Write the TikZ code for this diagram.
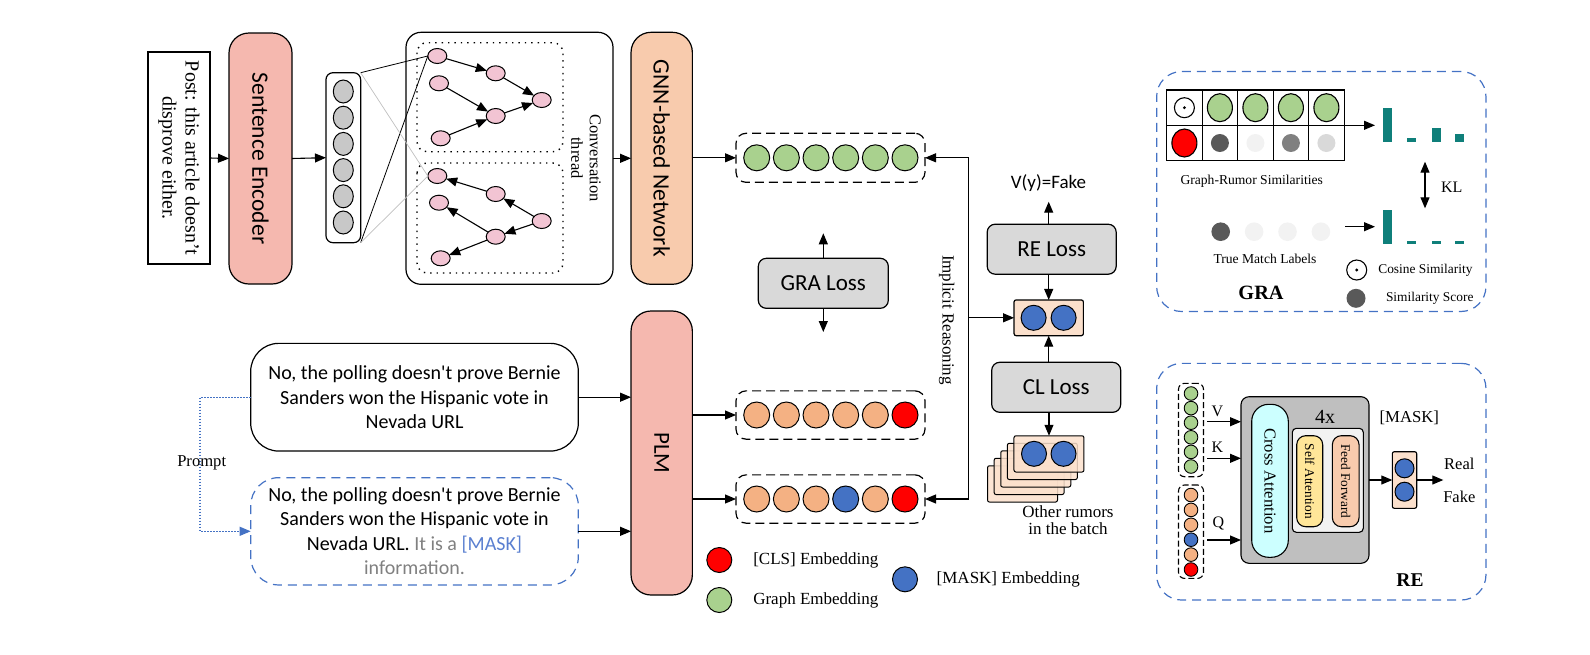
\documentclass[tikz,border=0pt]{standalone}
\usepackage{fontspec}
\setmainfont{Liberation Serif}
\newfontfamily\carl{Carlito}
\usetikzlibrary{arrows.meta,calc,shapes.geometric}
\definecolor{encc}{HTML}{F5B8AF}
\definecolor{gnnc}{HTML}{F8CBAD}
\definecolor{lossc}{HTML}{D9D9D9}
\definecolor{pinkn}{HTML}{F2C4D3}
\definecolor{greenc}{HTML}{A9D18E}
\definecolor{orangec}{HTML}{F4B183}
\definecolor{bluec}{HTML}{4472C4}
\definecolor{maskblue}{HTML}{5A7FD0}
\definecolor{peachc}{HTML}{FBE0CC}
\definecolor{tealc}{HTML}{0F7F7A}
\definecolor{cyanc}{HTML}{CCFFFF}
\definecolor{yellc}{HTML}{FFE699}
\definecolor{greyv}{HTML}{C8C8C8}
\definecolor{bigg}{HTML}{BFBFBF}
\definecolor{txtgrey}{HTML}{808080}
\definecolor{s1}{HTML}{595959}
\definecolor{s2}{HTML}{F2F2F2}
\definecolor{s3}{HTML}{808080}
\definecolor{s4}{HTML}{D9D9D9}
\tikzset{
  every node/.style={inner sep=0pt, outer sep=0pt},
  blk/.style={draw, line width=1.2pt},
  arr/.style={line width=1.1pt, -{Triangle[length=11pt,width=9pt]}},
  darr/.style={line width=1.1pt, {Triangle[length=11pt,width=9pt]}-{Triangle[length=11pt,width=9pt]}},
  emb/.style={circle, draw, line width=1pt, minimum size=26pt},
  dbox/.style={draw, line width=1.2pt, dash pattern=on 9pt off 5pt, rounded corners=10pt},
  bdbox/.style={draw=bluec, line width=1.2pt, dash pattern=on 9pt off 6pt, rounded corners=25pt},
  gn/.style={draw, line width=1pt, fill=pinkn, ellipse, minimum width=19pt, minimum height=15pt},
  gedge/.style={line width=1.1pt, -{Triangle[length=11pt,width=9pt]}},
  sans/.style n args={2}{font=\carl\fontsize{#1}{#2}\selectfont},
  serif/.style n args={2}{font=\fontsize{#1}{#2}\selectfont},
  lossbox/.style={blk, fill=lossc, rounded corners=8pt, minimum width=129pt, minimum height=50pt, sans={23}{27}},
  sdisc/.style={circle, minimum size=18pt},
}
\begin{document}
\begin{tikzpicture}[x=1pt,y=-1pt]
\useasboundingbox (0,0) rectangle (1590,654);

% ---------- top pipeline ----------
\node[blk, minimum width=62pt, minimum height=212pt] (post) at (179,158) {};
\node[rotate=-90, align=center, serif={20}{23}] at (post) {Post: this article doesn't\\disprove either.};

\node[blk, fill=encc, rounded corners=20pt, minimum width=63pt, minimum height=251pt] (enc) at (260.5,158.5) {};
\node[rotate=-90, sans={23.5}{28}] at (enc) {Sentence Encoder};

\node[blk, rounded corners=7pt, minimum width=34.7pt, minimum height=170pt] (vec) at (343.3,157.7) {};
\foreach \i in {0,...,5}
  \node[draw, line width=1pt, fill=greyv, ellipse, minimum width=20pt, minimum height=23pt] (v\i) at (343.3,91.5+26.2*\i) {};

\node[blk, rounded corners=15pt, minimum width=207pt, minimum height=252pt] (thr) at (509.5,158.3) {};
\draw[line width=1.4pt, dash pattern=on 1.4pt off 5pt, rounded corners=10pt] (417,42.7) rectangle (563,151.7);
\draw[line width=1.4pt, dash pattern=on 1.4pt off 5pt, rounded corners=10pt] (417,163) rectangle (563,273);

% tree 1
\node[gn] (a1) at (437.3,56) {};
\node[gn] (a2) at (495.7,73.3) {};
\node[gn] (a3) at (439,83.3) {};
\node[gn] (a4) at (541.7,100) {};
\node[gn] (a5) at (495.7,116) {};
\node[gn] (a6) at (440.7,138.3) {};
\draw[gedge] (a1) -- (a2);
\draw[gedge] (a2) -- (a4);
\draw[gedge] (a3) -- (a5);
\draw[gedge] (a5) -- (a4);
\draw[gedge] (a6) -- (a5);
% tree 2
\node[gn] (b1) at (437.3,176) {};
\node[gn] (b2) at (495.7,194) {};
\node[gn] (b3) at (439,202.7) {};
\node[gn] (b4) at (541.7,221) {};
\node[gn] (b5) at (495.7,236.7) {};
\node[gn] (b6) at (440.7,258.3) {};
\draw[gedge] (b2) -- (b1);
\draw[gedge] (b4) -- (b2);
\draw[gedge] (b4) -- (b5);
\draw[gedge] (b5) -- (b3);
\draw[gedge] (b5) -- (b6);

\draw[line width=0.8pt] (vec.north east) -- (a1.west);
\draw[line width=0.8pt] (vec.south east) -- (a1.west);
\draw[line width=0.7pt, draw=black!25] (vec.north east) -- (b1.west);
\draw[line width=0.7pt, draw=black!25] (vec.south east) -- (b1.west);

\node[rotate=-90, align=center, serif={16.5}{18.3}] (conv) at (586,158) {Conversation\\thread};

\node[blk, fill=gnnc, rounded corners=20pt, minimum width=61.3pt, minimum height=252pt] (gnn) at (661.7,158.3) {};
\node[rotate=-90, sans={23.5}{28}] at (gnn) {GNN-based Network};

\draw[arr] (post.east) -- (enc.west);
\draw[arr] (enc.east) -- (vec.west);
\draw[arr] (thr.east) -- (gnn.west);

% green embedding row
\node[dbox, minimum width=189pt, minimum height=49pt] (green) at (830.5,157.8) {};
\foreach \i in {0,...,5}
  \node[emb, fill=greenc] (g\i) at (756.7+29.66*\i,157.8) {};
\draw[arr] (gnn.east |- green.west) -- (green.west);

% GRA loss
\node[lossbox, minimum width=130pt] (gra) at (823.3,283.3) {GRA Loss};
\coordinate (graup) at (823.3,233.3);
\coordinate (gradn) at (823.3,332);
\draw[arr] (gra.north) -- (graup);
\draw[arr] (gra.south) -- (gradn);

% ---------- bottom pipeline ----------
\node[blk, rounded corners=28pt, minimum width=327.6pt, minimum height=107.7pt, align=center, sans={20}{24.4}] (box1) at (414.5,397.2)
  {No, the polling doesn't prove Bernie\\Sanders won the Hispanic vote in\\Nevada URL};
\node[bdbox, rounded corners=28pt, minimum width=327.6pt, minimum height=107.3pt, align=center, sans={20}{24.4}] (box2) at (414.5,531.3)
  {No, the polling doesn't prove Bernie\\Sanders won the Hispanic vote in\\Nevada URL. {\color{txtgrey}It is a} {\color{maskblue}[MASK]}\\{\color{txtgrey}information.}};

\coordinate (pr) at (200,464);
\draw[draw=bluec, line width=1.1pt, dash pattern=on 1.5pt off 1.5pt, -{Triangle[length=11pt,width=9pt]}] (box1.west) -| (pr) |- (box2.west);
\node[serif={16.6}{19}] (prompt) at (201.7,463.3) {Prompt};

\node[blk, fill=encc, rounded corners=20pt, minimum width=61.3pt, minimum height=284pt] (plm) at (661.7,453) {};
\node[rotate=-90, sans={23}{27}] at (plm) {PLM};

\draw[arr] (box1.east) -- (plm.west |- box1.east);
\draw[arr] (box2.east) -- (plm.west |- box2.east);

\node[dbox, minimum width=189pt, minimum height=48.3pt] (row1) at (830.5,415) {};
\foreach \i/\c in {0/orangec,1/orangec,2/orangec,3/orangec,4/orangec,5/red}
  \node[emb, fill=\c] (r\i) at (756.7+29.66*\i,415) {};
\node[dbox, minimum width=189pt, minimum height=48.3pt] (row2) at (830.5,499) {};
\foreach \i/\c in {0/orangec,1/orangec,2/orangec,3/bluec,4/orangec,5/red}
  \node[emb, fill=\c] (q\i) at (756.7+29.66*\i,499) {};
\draw[arr] (plm.east |- row1.west) -- (row1.west);
\draw[arr] (plm.east |- row2.west) -- (row2.west);

% legend
\node[emb, fill=red, minimum size=25pt] (lcls) at (719.3,560) {};
\node[anchor=west, serif={17}{20}] at (753.3,560) {[CLS] Embedding};
\node[emb, fill=greenc, minimum size=25pt] (lgr) at (719.3,600) {};
\node[anchor=west, serif={17}{20}] at (753.3,600) {Graph Embedding};
\node[emb, fill=bluec, minimum size=25pt] (lmask) at (905,579.3) {};
\node[anchor=west, serif={17}{20}] at (936.7,579.3) {[MASK] Embedding};

% ---------- implicit reasoning ----------
\node[blk, fill=peachc, rounded corners=2pt, minimum width=69.3pt, minimum height=35.7pt] (pair) at (1048.7,317.8) {};
\node[emb, fill=bluec, minimum size=25pt] (p1) at (1033.6,317.8) {};
\node[emb, fill=bluec, minimum size=25pt] (p2) at (1063.6,317.8) {};
\coordinate (ir) at (968.3,317.8);
\draw[arr] (ir) |- (green.east);
\draw[arr] (ir) |- (row2.east);
\draw[arr] (ir) -- (pair.west);
\node[rotate=-90, serif={17}{20}] (impl) at (946.7,320) {Implicit Reasoning};

\node[lossbox] (reloss) at (1051.7,249.2) {RE Loss};
\node[sans={19}{22}] (vy) at (1048.5,183) {V(y)=Fake};
\coordinate (vyb) at (1048.7,201.7);
\draw[arr] (pair.north |- reloss.north) -- (vyb);
\draw[arr] (pair.north |- reloss.south) -- (pair.north);

\node[lossbox] (clloss) at (1056.2,387.3) {CL Loss};
\draw[arr] (pair.south |- clloss.north) -- (pair.south);

\foreach \k in {0,...,4}
  \node[blk, line width=1pt, fill=peachc, fill opacity=0.85, draw opacity=1, rounded corners=2pt, minimum width=70pt, minimum height=36.3pt] (st\k) at (1022.5+6.62*\k,483.9-7.5*\k) {};
\node[emb, fill=bluec, minimum size=25pt] (sc1) at (1034,453.8) {};
\node[emb, fill=bluec, minimum size=25pt] (sc2) at (1063.5,453.8) {};
\draw[arr] (st4.north |- clloss.south) -- (st4.north);
\node[align=center, serif={17}{16.6}] (oth) at (1068,520) {Other rumors\\in the batch};

% ---------- GRA panel ----------
\node[bdbox, minimum width=329.3pt, minimum height=240pt] (grap) at (1321.3,191.5) {};
\draw[line width=1.2pt] (1166.7,90) rectangle (1344.2,160.7);
\draw[line width=1.2pt] (1166.7,125.3) -- (1344.2,125.3);
\foreach \x in {1202.2,1237.7,1273.2,1308.7} \draw[line width=1.2pt] (\x,90) -- (\x,160.7);
\node[circle, draw, line width=1.1pt, minimum size=20pt] (cos1) at (1184.4,107.7) {};
\fill (cos1) circle (1.6pt);
\foreach \i in {1,...,4}
  \node[ellipse, draw, line width=1.1pt, fill=greenc, minimum width=25pt, minimum height=28pt] (tg\i) at (1184.4+35.5*\i,107.7) {};
\node[ellipse, draw, line width=1.1pt, fill=red, minimum width=25pt, minimum height=28pt] (tr0) at (1184.4,143) {};
\foreach \i/\c in {1/s1,2/s2,3/s3,4/s4}
  \node[sdisc, fill=\c] (ts\i) at (1184.4+35.5*\i,143) {};
\coordinate (simst) at (1344.2,125.3);
\coordinate (simend) at (1375,125.3);
\draw[arr] (simst) -- (simend);
\node[serif={13.6}{16}] (grs) at (1251.7,181.7) {Graph-Rumor Similarities};

\fill[tealc] (1383.3,108.3) rectangle (1391.7,141.7);
\fill[tealc] (1406.7,138.3) rectangle (1416,141.7);
\fill[tealc] (1431.7,128.3) rectangle (1440.7,141.7);
\fill[tealc] (1455,134) rectangle (1464.3,141.7);
\fill[tealc] (1383.3,210) rectangle (1391.7,244.3);
\fill[tealc] (1406.7,240.7) rectangle (1416,244.3);
\fill[tealc] (1431.7,240.7) rectangle (1440.7,244.3);
\fill[tealc] (1455,240.7) rectangle (1464.3,244.3);

\coordinate (klt) at (1425,161.7);
\coordinate (klb) at (1425,208.3);
\draw[darr] (klt) -- (klb);
\node[serif={16}{19}] (kl) at (1451.7,187.7) {KL};

\foreach \i/\c in {0/s1,1/s2,2/s2,3/s2}
  \node[sdisc, minimum size=18.6pt, fill=\c] (tm\i) at (1220.7+33.4*\i,231.7) {};
\coordinate (tms) at (1345,226.7);
\coordinate (tme) at (1375,226.7);
\draw[arr] (tms) -- (tme);
\node[serif={13.6}{16}] (tml) at (1265,259.3) {True Match Labels};

\node[circle, draw, line width=1.1pt, minimum size=20pt] (lcos) at (1356.7,270) {};
\fill (lcos) circle (1.6pt);
\node[anchor=west, serif={13.4}{16}] at (1378.3,270) {Cosine Similarity};
\node[sdisc, fill=s1, minimum size=19pt] (lss) at (1356,298.3) {};
\node[anchor=west, serif={13.4}{16}] at (1386,298.3) {Similarity Score};
\node[font=\bfseries\fontsize{20.3}{24}\selectfont] (gralab) at (1261,292.7) {GRA};

% ---------- RE panel ----------
\node[bdbox, minimum width=329.3pt, minimum height=236.7pt] (rep) at (1321.3,481.7) {};
\node[draw, line width=1.1pt, dash pattern=on 6pt off 3pt, rounded corners=6pt, minimum width=25pt, minimum height=93.4pt] (gcol) at (1191,430) {};
\foreach \i in {0,...,5}
  \node[circle, draw, line width=0.9pt, fill=greenc, minimum size=13.6pt] (gc\i) at (1191,393.5+14.6*\i) {};
\node[draw, line width=1.1pt, dash pattern=on 6pt off 3pt, rounded corners=6pt, minimum width=25pt, minimum height=93.4pt] (ocol) at (1191,531.7) {};
\foreach \i/\c in {0/orangec,1/orangec,2/orangec,3/bluec,4/orangec,5/red}
  \node[circle, draw, line width=0.9pt, fill=\c, minimum size=13.6pt] (oc\i) at (1191,495+14.9*\i) {};

\node[blk, line width=1.1pt, fill=bigg, rounded corners=8pt, minimum width=128pt, minimum height=166.6pt] (big) at (1305,480) {};
\node[blk, line width=1.1pt, fill=cyanc, rounded corners=17pt, minimum width=36.6pt, minimum height=153pt] (cross) at (1270,480.8) {};
\node[rotate=-90, serif={16.7}{19}] at (cross) {Cross Attention};
\node[blk, line width=1.1pt, fill=s2, rounded corners=4pt, minimum width=71pt, minimum height=104pt] (inner) at (1327.8,480.3) {};
\node[blk, line width=1.1pt, fill=yellc, rounded corners=9pt, minimum width=26pt, minimum height=91pt] (selfa) at (1309.7,481.2) {};
\node[rotate=-90, serif={13.3}{16}] at (selfa) {Self Attention};
\node[blk, line width=1.1pt, fill=gnnc, rounded corners=9pt, minimum width=26.7pt, minimum height=91pt] (ffw) at (1345.7,481.2) {};
\node[rotate=-90, serif={13.3}{16}] at (ffw) {Feed Forward};
\node[serif={20}{24}] (fx) at (1325,416.7) {4x};

\coordinate (vs) at (1207.3,421.7);
\coordinate (ks) at (1207.3,458.3);
\coordinate (qs) at (1207.3,540);
\draw[arr] (vs) -- (big.west |- vs);
\draw[arr] (ks) -- (big.west |- ks);
\draw[arr] (qs) -- (big.west |- qs);
\node[serif={16}{19}] (vl) at (1217.3,411) {V};
\node[serif={16}{19}] (kll) at (1217.3,447.7) {K};
\node[serif={16}{19}] (ql) at (1218.3,523.3) {Q};

\node[serif={16.7}{19}] (mk) at (1409.3,418.3) {[MASK]};
\node[blk, line width=1.1pt, fill=peachc, rounded corners=2pt, minimum width=24.4pt, minimum height=56.6pt] (mbox) at (1404.5,480) {};
\node[circle, draw, line width=1pt, fill=bluec, minimum size=19pt] (m1) at (1404.5,468.3) {};
\node[circle, draw, line width=1pt, fill=bluec, minimum size=19pt] (m2) at (1404.5,491.7) {};
\draw[arr] (big.east |- mbox.west) -- (mbox.west);
\coordinate (rf) at (1443.3,480);
\draw[arr] (mbox.east) -- (rf);
\node[serif={16.5}{19}] (real) at (1459.3,464) {Real};
\node[serif={16.5}{19}] (fake) at (1459.3,497.3) {Fake};
\node[font=\bfseries\fontsize{19.5}{23}\selectfont] (relab) at (1410,580) {RE};
\end{tikzpicture}
\end{document}
